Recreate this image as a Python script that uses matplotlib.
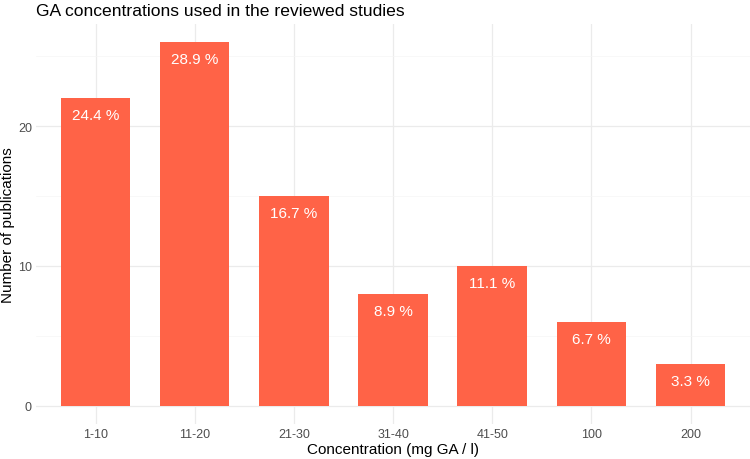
import numpy as np
import matplotlib
matplotlib.use("Agg")
import matplotlib.pyplot as plt

plt.rcParams['font.family'] = ['Liberation Sans', 'DejaVu Sans']

categories = ["1-10", "11-20", "21-30", "31-40", "41-50", "100", "200"]
counts = [22, 26, 15, 8, 10, 6, 3]
labels = ["24.4 %", "28.9 %", "16.7 %", "8.9 %", "11.1 %", "6.7 %", "3.3 %"]

fig = plt.figure(figsize=(7.5, 4.6), dpi=100)
ax = fig.add_axes([36/750, 35/460, 714/750, 400/460])

x = np.arange(len(categories))
ax.bar(x, counts, width=0.7, color="#FF6347", zorder=2)
for xi, c, lab in zip(x, counts, labels):
    ax.annotate(lab, (xi, c), xytext=(0, -12), textcoords="offset points",
                ha="center", va="center", color="white", fontsize=11)

ax.set_xlim(-0.6, len(categories) - 0.4)
ax.set_ylim(-1.3, 27.3)
ax.set_xticks(x)
ax.set_xticklabels(categories)
ax.set_yticks([0, 10, 20])
ax.set_yticks([5, 15, 25], minor=True)
ax.grid(which="major", color="#EBEBEB", linewidth=0.9, zorder=0)
ax.grid(which="minor", axis="y", color="#F5F5F5", linewidth=0.5, zorder=0)
ax.tick_params(axis="both", which="both", length=0, labelsize=9, labelcolor="#4D4D4D")
ax.tick_params(axis="x", pad=3)
ax.tick_params(axis="y", pad=3)
for s in ax.spines.values():
    s.set_visible(False)

ax.set_xlabel("Concentration (mg GA / l)", fontsize=11, labelpad=1)
ax.set_ylabel("Number of publications", fontsize=11, labelpad=2)
fig.text(36/750, 1 - 12/460, "GA concentrations used in the reviewed studies",
         fontsize=12.6, va="center", ha="left")

fig.savefig("out.png", dpi=100)
